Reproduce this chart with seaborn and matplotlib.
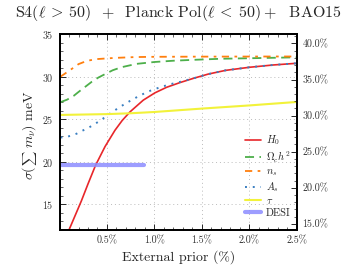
import matplotlib
matplotlib.use("Agg")
import matplotlib.pyplot as plt
import seaborn as sns
import numpy as np
from matplotlib.ticker import MultipleLocator, FuncFormatter

sns.set_theme(style="white")
plt.rcParams.update({
    "font.family": ["cmr10", "DejaVu Serif"],
    "mathtext.fontset": "cm",
    "axes.formatter.use_mathtext": True,
    "axes.unicode_minus": False,
})

# ---- data ----
h0_x = [0.10, 0.23, 0.30, 0.38, 0.48, 0.584, 0.66, 0.742, 0.882, 1.005, 1.128, 1.268, 1.41, 1.566, 1.75, 2.00, 2.25, 2.50]
h0_y = [12.0, 15.4, 17.4, 19.6, 21.8, 23.7, 24.85, 25.86, 27.24, 28.1, 28.75, 29.3, 29.8, 30.3, 30.74, 31.1, 31.37, 31.57]

omc_x = [0.01, 0.08, 0.15, 0.20, 0.27, 0.34, 0.41, 0.48, 0.56, 0.65, 0.81, 1.00, 1.20, 1.40, 1.70, 2.04, 2.50]
omc_y = [27.0, 27.3, 27.75, 28.2, 28.8, 29.4, 29.9, 30.3, 30.75, 31.1, 31.5, 31.72, 31.87, 31.97, 32.1, 32.17, 32.27]

ns_x = [0.01, 0.05, 0.11, 0.20, 0.29, 0.39, 0.58, 0.80, 1.00, 1.50, 2.00, 2.50]
ns_y = [30.0, 30.3, 30.76, 31.47, 31.86, 32.06, 32.2, 32.3, 32.33, 32.35, 32.36, 32.37]

as_x = [0.01, 0.075, 0.13, 0.18, 0.23, 0.29, 0.36, 0.444, 0.53, 0.637, 0.735, 0.84, 0.945, 1.058, 1.163, 1.268, 1.41, 1.566, 1.75, 2.00, 2.25, 2.50]
as_y = [22.85, 22.92, 23.1, 23.3, 23.6, 23.9, 24.35, 24.96, 25.65, 26.45, 27.1, 27.75, 28.3, 28.75, 29.1, 29.38, 29.8, 30.3, 30.74, 31.1, 31.37, 31.57]

tau_x = [0.0, 0.5, 0.75, 1.0, 1.25, 1.5, 2.0, 2.5]
tau_y = [25.5, 25.6, 25.7, 25.85, 26.05, 26.25, 26.62, 27.03]

desi_x = [0.0, 0.89]
desi_y = [19.6, 19.6]

xticks = [0.5, 1.0, 1.5, 2.0, 2.5]
yticks = [15, 20, 25, 30, 35]
pct_ticks = [15, 20, 25, 30, 35, 40]
pct_factor = 1.18  # right-axis percent per meV

fig = plt.figure(figsize=(3.57, 2.77), dpi=100)
ax = fig.add_axes([0.1667, 0.170, 0.665, 0.707])

sns.lineplot(x=h0_x, y=h0_y, ax=ax, color="#e8262a", lw=1.2, label=r"$H_0$")
sns.lineplot(x=omc_x, y=omc_y, ax=ax, color="#4daf4a", lw=1.3,
             linestyle=(0, (5, 3)), label=r"$\Omega_c h^2$")
sns.lineplot(x=ns_x, y=ns_y, ax=ax, color="#ff7f0e", lw=1.3,
             linestyle=(0, (4, 3, 1.5, 3)), label=r"$n_s$")
sns.lineplot(x=as_x, y=as_y, ax=ax, color="#3a7fc1", lw=1.4,
             linestyle=(0, (1, 3)), label=r"$A_s$")
sns.lineplot(x=tau_x, y=tau_y, ax=ax, color="#f2f23a", lw=1.5, label=r"$\tau$")
sns.lineplot(x=desi_x, y=desi_y, ax=ax, color="#8c8cff", lw=3, alpha=0.85, label="DESI")

ax.set_xlim(0, 2.5)
ax.set_ylim(12, 35)
ax.set_xticks(xticks)
ax.set_yticks(yticks)
ax.xaxis.set_major_formatter(FuncFormatter(lambda v, p: f"{v:.1f}%"))
ax.xaxis.set_minor_locator(MultipleLocator(0.1))
ax.yaxis.set_minor_locator(MultipleLocator(1))
ax.grid(True, which="major", linestyle=(0, (1, 3)), color="#bbbbbb", lw=0.7)
ax.tick_params(which="both", direction="in", top=True, bottom=True, left=True, right=False,
               labelsize=7.2, labelcolor="#333333", pad=4)
ax.tick_params(which="major", length=4, width=0.7)
ax.tick_params(which="minor", length=2, width=0.5)
for s in ax.spines.values():
    s.set_linewidth(1.3)
    s.set_color("black")

ax.set_xlabel("External prior (%)", fontsize=10, labelpad=4)

ax2 = ax.twinx()
ax2.set_ylim(12 * pct_factor, 35 * pct_factor)
ax2.set_yticks(pct_ticks)
ax2.yaxis.set_major_formatter(FuncFormatter(lambda v, p: f"{v:.1f}%"))
ax2.yaxis.set_minor_locator(MultipleLocator(1))
ax2.tick_params(which="both", direction="in", right=True, labelsize=7.2,
                labelcolor="#333333", pad=4)
ax2.tick_params(which="major", length=4, width=0.7)
ax2.tick_params(which="minor", length=2, width=0.5)
ax2.grid(False)
for s in ax2.spines.values():
    s.set_linewidth(1.3)
    s.set_color("black")

leg = ax.legend(loc="lower right", frameon=False, fontsize=7.5, handlelength=1.5,
                labelspacing=0.22, borderaxespad=0.2, handletextpad=0.5,
                bbox_to_anchor=(1.0, 0.03))

fig.text(0.5, 0.952, r"S4$(\ell\:>\:50)$  $+$  Planck Pol$(\ell\:<\:50) +$  BAO15",
         ha="center", va="center", fontsize=11.5)

# y label built from parts so the summation sign keeps text-style size
label_parts = [(r"$\sigma($", 10), (r"$\sum$", 7.2), (r"$\,m_\nu)$ meV", 10)]
renderer = fig.canvas.get_renderer()
texts = []
widths = []
for s, fs in label_parts:
    t = fig.text(0, 0, s, fontsize=fs, rotation=90, rotation_mode="anchor",
                 ha="left", va="baseline", transform=None)
    bb = t.get_window_extent(renderer)
    texts.append(t)
    widths.append(bb.height)
total = sum(widths)
W, H = fig.bbox.width, fig.bbox.height
x_base = 33.0           # pixel x of the baseline
y_center = H - 135.0    # pixel y of the label centre
y = y_center - total / 2
for t, w in zip(texts, widths):
    t.set_position((x_base, y))
    y += w

fig.savefig("out.png", dpi=100)
